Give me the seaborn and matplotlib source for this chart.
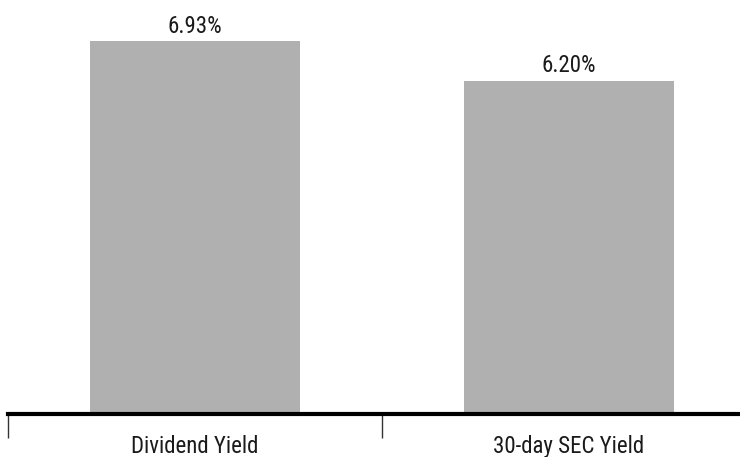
import matplotlib
matplotlib.use("Agg")
import matplotlib.pyplot as plt
import seaborn as sns
import pandas as pd

categories = ["Dividend Yield", "30-day SEC Yield"]
values = [6.93, 6.20]
value_labels = ["6.93%", "6.20%"]

sns.set_theme(style="white")
plt.rcParams['font.family'] = ['Roboto Condensed', 'DejaVu Sans']

df = pd.DataFrame({"cat": categories, "val": values})

fig = plt.figure(figsize=(7.4, 4.57), dpi=100)
ax = fig.add_axes([8/740, 43/457, 748/740, 414/457])
sns.barplot(data=df, x="cat", y="val", color="#b0b0b0", saturation=1, width=0.56,
            edgecolor="none", linewidth=0, ax=ax)

ax.set_ylim(0, 7.70)
ax.set_xlim(-0.5, 1.5)
for s in ["top", "left", "right"]:
    ax.spines[s].set_visible(False)
ax.spines["bottom"].set_linewidth(3)
ax.spines["bottom"].set_color("black")
ax.set_yticks([])
ax.set_xlabel("")
ax.set_ylabel("")
ax.set_xticks([0, 1])
ax.set_xticklabels(categories, fontsize=16.5, color="#1a1a1a")
ax.tick_params(axis="x", which="major", length=0, pad=15, bottom=True)
ax.set_xticks([-0.5, 0.5, 1.5], minor=True)
ax.tick_params(axis="x", which="minor", length=17, width=1, color="#333333",
               direction="out", bottom=True)

for i, (v, lab) in enumerate(zip(values, value_labels)):
    ax.text(i, v + 0.16, lab, ha="center", va="baseline", fontsize=16.5, color="#1a1a1a")

fig.savefig("out.png", dpi=100)
